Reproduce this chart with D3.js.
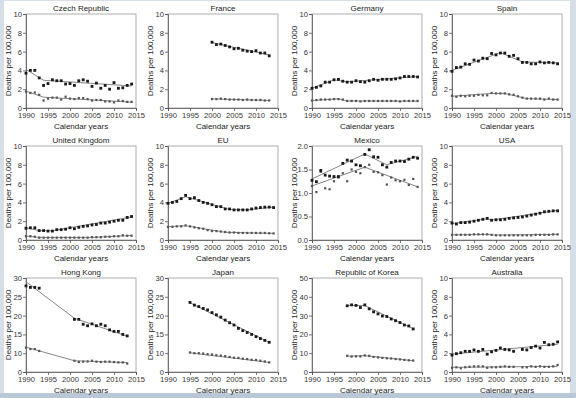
<!DOCTYPE html>
<html>
<head>
<meta charset="utf-8">
<script src="https://cdn.jsdelivr.net/npm/d3@7"></script>
<style>
  html, body { margin: 0; padding: 0; background: #fff; }
  svg { display: block; font-family: "Liberation Sans", Arial, sans-serif; }
</style>
</head>
<body>
<div id="chart"></div>
<script>
'use strict';
// years
var years90to14 = d3.range(1990, 2015);
var years00to13 = d3.range(2000, 2014);
var years95to13 = d3.range(1995, 2014);
var years98to13 = d3.range(1998, 2014);
var hongKongYears = [1990, 1991, 1992, 1993, 2001, 2002, 2003, 2004, 2005, 2006, 2007, 2008, 2009, 2010, 2011, 2012, 2013];
var australiaYears = [1990, 1991, 1992, 1993, 1994, 1995, 1996, 1997, 1998, 1999, 2000, 2001, 2002, 2003, 2004,
    2006, 2007, 2008, 2009, 2010, 2011, 2012, 2013, 2014];

// observed rates (upper = filled squares, lower = small squares)
var czechHigh = [3.7, 4.0, 4.0, 3.2, 2.4, 2.6, 3.0, 2.9, 2.9, 2.55, 2.6, 2.4, 2.9, 3.0, 2.85, 2.3, 2.65, 2.1, 2.4, 2.0, 2.7, 2.1, 2.15, 2.4, 2.55];
var czechLow = [1.75, 1.6, 1.65, 1.4, 0.8, 1.0, 1.1, 1.1, 0.9, 1.2, 1.0, 0.95, 1.05, 1.05, 0.95, 0.8, 0.85, 0.85, 0.7, 0.7, 0.6, 0.8, 0.75, 0.65, 0.65];
var franceHigh = [7.0, 6.75, 6.8, 6.65, 6.5, 6.3, 6.35, 6.15, 6.05, 6.0, 6.1, 5.85, 5.85, 5.55];
var franceLow = [0.95, 0.95, 1.0, 0.95, 0.9, 0.9, 0.9, 0.85, 0.9, 0.85, 0.85, 0.85, 0.8, 0.8];
var germanyHigh = [2.1, 2.2, 2.35, 2.75, 2.75, 3.0, 3.05, 2.85, 2.75, 2.75, 2.9, 2.8, 2.75, 2.9, 3.05, 2.95, 3.05, 3.05, 3.05, 3.1, 3.2, 3.35, 3.35, 3.35, 3.3];
var germanyLow = [0.8, 0.85, 0.9, 0.9, 0.9, 0.95, 0.95, 0.9, 0.75, 0.75, 0.75, 0.7, 0.75, 0.75, 0.75, 0.75, 0.75, 0.75, 0.75, 0.75, 0.7, 0.75, 0.75, 0.75, 0.75];
var spainHigh = [3.9, 4.3, 4.35, 4.7, 4.65, 5.1, 5.0, 5.3, 5.25, 5.8, 5.65, 5.85, 5.85, 5.5, 5.6, 5.25, 4.85, 4.85, 4.7, 4.7, 4.9, 4.8, 4.85, 4.8, 4.7];
var spainLow = [1.3, 1.2, 1.3, 1.25, 1.3, 1.3, 1.4, 1.35, 1.35, 1.6, 1.55, 1.55, 1.55, 1.45, 1.4, 1.25, 1.1, 1.0, 1.0, 1.0, 1.0, 0.9, 1.0, 0.9, 0.9];
var ukHigh = [1.25, 1.3, 1.3, 1.0, 1.0, 0.95, 0.95, 1.1, 1.1, 1.15, 1.3, 1.2, 1.35, 1.45, 1.5, 1.6, 1.65, 1.8, 1.8, 1.9, 2.0, 2.1, 2.1, 2.4, 2.5];
var ukLow = [0.4, 0.4, 0.35, 0.25, 0.25, 0.25, 0.25, 0.25, 0.25, 0.25, 0.25, 0.25, 0.25, 0.25, 0.25, 0.3, 0.3, 0.3, 0.35, 0.35, 0.4, 0.4, 0.5, 0.45, 0.45];
var euHigh = [3.9, 4.0, 4.1, 4.4, 4.75, 4.4, 4.5, 4.2, 4.0, 3.9, 3.75, 3.55, 3.55, 3.3, 3.3, 3.2, 3.2, 3.2, 3.2, 3.3, 3.4, 3.45, 3.5, 3.5, 3.45];
var euLow = [1.4, 1.4, 1.45, 1.45, 1.55, 1.45, 1.35, 1.25, 1.2, 1.05, 0.95, 0.95, 0.9, 0.85, 0.8, 0.8, 0.75, 0.75, 0.75, 0.75, 0.75, 0.75, 0.75, 0.72, 0.7];
var mexicoHigh = [1.27, 1.24, 1.48, 1.38, 1.36, 1.35, 1.35, 1.63, 1.7, 1.68, 1.6, 1.58, 1.82, 1.92, 1.77, 1.76, 1.6, 1.55, 1.65, 1.68, 1.68, 1.67, 1.72, 1.76, 1.74];
var mexicoLow = [1.15, 1.02, 1.45, 1.1, 1.08, 1.25, 1.33, 1.42, 1.25, 1.5, 1.45, 1.42, 1.55, 1.6, 1.45, 1.44, 1.38, 1.18, 1.33, 1.27, 1.25, 1.28, 1.17, 1.3, 1.13];
var usaHigh = [1.8, 1.7, 1.85, 1.85, 1.9, 2.0, 2.1, 2.2, 2.3, 2.1, 2.15, 2.15, 2.2, 2.3, 2.35, 2.4, 2.45, 2.55, 2.65, 2.75, 2.85, 3.0, 3.05, 3.1, 3.1];
var usaLow = [0.55, 0.55, 0.55, 0.55, 0.55, 0.6, 0.6, 0.6, 0.6, 0.55, 0.5, 0.5, 0.5, 0.5, 0.5, 0.5, 0.5, 0.5, 0.5, 0.55, 0.55, 0.55, 0.55, 0.6, 0.6];
var hongKongHigh = [27.9, 27.5, 27.5, 27.3, 19.0, 19.0, 17.7, 17.3, 17.8, 17.3, 17.7, 17.3, 16.2, 15.8, 15.8, 15.0, 14.6];
var hongKongLow = [11.5, 11.1, 11.1, 10.6, 6.0, 5.3, 5.5, 5.6, 6.0, 5.5, 5.3, 5.5, 5.5, 5.3, 5.1, 5.1, 4.5];
var japanHigh = [23.5, 22.8, 22.4, 21.9, 21.5, 20.8, 20.2, 19.6, 18.8, 18.1, 17.5, 16.6, 16.0, 15.5, 15.0, 14.4, 13.9, 13.4, 12.9];
var japanLow = [10.2, 10.0, 10.0, 9.8, 9.45, 9.3, 8.9, 8.7, 8.4, 8.0, 7.6, 7.5, 7.1, 6.9, 6.5, 6.4, 6.0, 5.6, 5.1];
var koreaHigh = [35.2, 35.7, 35.4, 34.3, 35.7, 33.6, 32.0, 30.9, 29.8, 29.5, 28.2, 27.3, 26.3, 25.0, 24.5, 22.9];
var koreaLow = [8.6, 8.2, 8.3, 8.3, 8.8, 8.6, 8.0, 7.8, 7.5, 7.3, 7.2, 6.9, 6.7, 6.4, 6.2, 6.1];
var australiaHigh = [1.8, 1.95, 2.05, 2.2, 2.2, 2.35, 2.2, 2.4, 1.9, 2.15, 2.3, 2.55, 2.4, 2.35, 2.2, 2.4, 2.35, 2.6, 2.75, 2.55, 3.15, 2.9, 2.95, 3.2];
var australiaLow = [0.45, 0.5, 0.4, 0.5, 0.55, 0.6, 0.6, 0.6, 0.45, 0.5, 0.5, 0.55, 0.6, 0.55, 0.55, 0.5, 0.5, 0.6, 0.55, 0.6, 0.55, 0.55, 0.6, 0.75];

// joinpoint trend lines [year, rate]
var czechHighFit = [[1990, 4.1], [1994, 2.95], [2014, 2.35]];
var czechLowFit = [[1990, 1.8], [1994, 1.15], [2014, 0.62]];
var franceHighFit = [[2000, 6.95], [2013, 5.65]];
var franceLowFit = [[2000, 0.97], [2013, 0.8]];
var germanyHighFit = [[1990, 2.1], [1995, 3.0], [1998, 2.78], [2014, 3.35]];
var germanyLowFit = [[1990, 0.8], [1996, 0.97], [1998, 0.75], [2014, 0.73]];
var spainHighFit = [[1990, 4.0], [2001, 5.9], [2006, 4.9], [2014, 4.8]];
var spainLowFit = [[1990, 1.25], [1999, 1.55], [2002, 1.55], [2007, 1.0], [2014, 0.9]];
var ukHighFit = [[1990, 1.3], [1993, 1.0], [1996, 0.98], [2014, 2.45]];
var ukLowFit = [[1990, 0.42], [1993, 0.27], [2005, 0.27], [2014, 0.48]];
var euHighFit = [[1990, 3.9], [1994, 4.6], [2004, 3.25], [2008, 3.2], [2014, 3.5]];
var euLowFit = [[1990, 1.42], [1994, 1.52], [2003, 0.82], [2014, 0.7]];
var mexicoHighFit = [[1990, 1.3], [2002, 1.83], [2007, 1.6], [2014, 1.78]];
var mexicoLowFit = [[1990, 1.15], [2002, 1.55], [2014, 1.13]];
var usaHighFit = [[1990, 1.75], [1998, 2.25], [1999, 2.12], [2014, 3.15]];
var usaLowFit = [[1990, 0.55], [1998, 0.6], [2000, 0.52], [2014, 0.6]];
var hongKongHighFit = [[1990, 29.0], [2001, 19.3], [2013, 14.5]];
var hongKongLowFit = [[1990, 11.6], [2001, 6.0], [2013, 5.0]];
var japanHighFit = [[1995, 23.4], [2013, 12.9]];
var japanLowFit = [[1995, 10.1], [2013, 5.1]];
var koreaHighFit = [[1998, 35.5], [2002, 35.3], [2013, 23.0]];
var koreaLowFit = [[1998, 8.4], [2002, 8.7], [2013, 6.0]];
var australiaHighFit = [[1990, 1.9], [2014, 2.95]];
var australiaLowFit = [[1990, 0.5], [2014, 0.6]];

// axis ticks
var xTicks = [1990, 1995, 2000, 2005, 2010, 2015];
var ticks0to10 = [0, 2, 4, 6, 8, 10];
var ticksMexico = [0, 0.5, 1.0, 1.5, 2.0];
var ticksBroken30 = [0, 10, 15, 20, 25, 30];
var ticksKorea = [0, 10, 20, 30, 40, 50];

var panels = [
    {title: "Czech Republic", years: years90to14, high: czechHigh, low: czechLow, highFit: czechHighFit, lowFit: czechLowFit, yTicks: ticks0to10},
    {title: "France", years: years00to13, high: franceHigh, low: franceLow, highFit: franceHighFit, lowFit: franceLowFit, yTicks: ticks0to10},
    {title: "Germany", years: years90to14, high: germanyHigh, low: germanyLow, highFit: germanyHighFit, lowFit: germanyLowFit, yTicks: ticks0to10},
    {title: "Spain", years: years90to14, high: spainHigh, low: spainLow, highFit: spainHighFit, lowFit: spainLowFit, yTicks: ticks0to10},
    {title: "United Kingdom", years: years90to14, high: ukHigh, low: ukLow, highFit: ukHighFit, lowFit: ukLowFit, yTicks: ticks0to10},
    {title: "EU", years: years90to14, high: euHigh, low: euLow, highFit: euHighFit, lowFit: euLowFit, yTicks: ticks0to10},
    {title: "Mexico", years: years90to14, high: mexicoHigh, low: mexicoLow, highFit: mexicoHighFit, lowFit: mexicoLowFit, yTicks: ticksMexico, fmt: d3.format(".1f")},
    {title: "USA", years: years90to14, high: usaHigh, low: usaLow, highFit: usaHighFit, lowFit: usaLowFit, yTicks: ticks0to10},
    {title: "Hong Kong", years: hongKongYears, high: hongKongHigh, low: hongKongLow, highFit: hongKongHighFit, lowFit: hongKongLowFit, yTicks: ticksBroken30, broken: true},
    {title: "Japan", years: years95to13, high: japanHigh, low: japanLow, highFit: japanHighFit, lowFit: japanLowFit, yTicks: ticksBroken30, broken: true},
    {title: "Republic of Korea", years: years98to13, high: koreaHigh, low: koreaLow, highFit: koreaHighFit, lowFit: koreaLowFit, yTicks: ticksKorea},
    {title: "Australia", years: australiaYears, high: australiaHigh, low: australiaLow, highFit: australiaHighFit, lowFit: australiaLowFit, yTicks: ticks0to10}
];

var width = 576, height = 398;
var colLeft = [26, 168, 312, 452];
var rowTop = [14, 146, 278];
var pw = 110, ph = 94;

var svg = d3.select("#chart").append("svg")
    .attr("width", width)
    .attr("height", height);

// outer frame of the figure
svg.append("rect").attr("width", width).attr("height", height).attr("fill", "#d6dee7");
svg.append("rect").attr("x", 4).attr("y", 1).attr("width", 566).attr("height", 392).attr("fill", "#fff");
svg.append("rect").attr("x", 0).attr("y", 393).attr("width", width).attr("height", 5).attr("fill", "#b9c7d6");

panels.forEach(function (p, i) {
    var g = svg.append("g")
        .attr("transform", "translate(" + colLeft[i % 4] + "," + rowTop[Math.floor(i / 4)] + ")");

    var x = d3.scaleLinear().domain([1990, 2015]).range([0, pw]);
    var yMax = d3.max(p.yTicks);
    // Hong Kong and Japan use a stretched axis: 0-10 takes a fifth of the height
    var y = p.broken
        ? d3.scaleLinear().domain([0, 10, 30]).range([ph, ph * 0.8, 0])
        : d3.scaleLinear().domain([0, yMax]).range([ph, 0]);

    // box
    g.append("rect")
        .attr("width", pw).attr("height", ph)
        .attr("fill", "none").attr("stroke", "#9a9a9a").attr("stroke-width", 0.8);

    var xAxis = g.append("g")
        .attr("transform", "translate(0," + ph + ")")
        .call(d3.axisBottom(x).tickValues(xTicks).tickFormat(d3.format("d")).tickSize(3).tickPadding(2));
    var yAxis = g.append("g")
        .call(d3.axisLeft(y).tickValues(p.yTicks).tickFormat(p.fmt || d3.format("d")).tickSize(3).tickPadding(1));

    [xAxis, yAxis].forEach(function (a) {
        a.select(".domain").attr("stroke", "#555").attr("stroke-width", 0.8);
        a.selectAll(".tick line").attr("stroke", "#555").attr("stroke-width", 0.8);
        a.selectAll("text").attr("font-size", 7.6).attr("fill", "#333")
            .attr("font-family", "Liberation Sans, Arial, sans-serif");
    });

    // titles and axis labels
    g.append("text")
        .attr("x", pw / 2).attr("y", -3)
        .attr("text-anchor", "middle").attr("font-size", 8).attr("fill", "#222")
        .text(p.title);
    g.append("text")
        .attr("x", pw / 2).attr("y", ph + 21)
        .attr("text-anchor", "middle").attr("font-size", 8).attr("fill", "#222")
        .text("Calendar years");
    g.append("text")
        .attr("transform", "translate(-15," + (ph / 2) + ") rotate(-90)")
        .attr("text-anchor", "middle").attr("font-size", 8).attr("fill", "#222")
        .text("Deaths per 100,000");

    var line = d3.line()
        .x(function (d) { return x(d[0]); })
        .y(function (d) { return y(d[1]); });

    [p.highFit, p.lowFit].forEach(function (fit) {
        g.append("path")
            .datum(fit)
            .attr("d", line)
            .attr("fill", "none")
            .attr("stroke", "#666")
            .attr("stroke-width", 0.8);
    });

    var sym = d3.symbol().type(d3.symbolSquare);

    g.append("g").selectAll("path")
        .data(p.low.map(function (v, k) { return [p.years[k], v]; }))
        .enter().append("path")
        .attr("transform", function (d) { return "translate(" + x(d[0]) + "," + y(d[1]) + ")"; })
        .attr("d", sym.size(5)())
        .attr("fill", "#555");

    g.append("g").selectAll("path")
        .data(p.high.map(function (v, k) { return [p.years[k], v]; }))
        .enter().append("path")
        .attr("transform", function (d) { return "translate(" + x(d[0]) + "," + y(d[1]) + ")"; })
        .attr("d", sym.size(8)())
        .attr("fill", "#1a1a1a");
});
</script>
</body>
</html>
